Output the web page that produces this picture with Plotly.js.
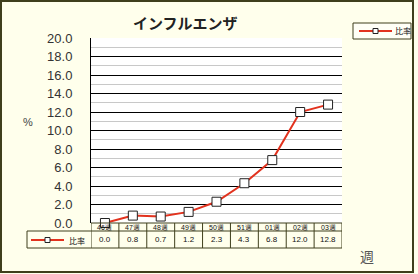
<!DOCTYPE html>
<html><head><meta charset="utf-8">
<script src="https://cdn.plot.ly/plotly-3.0.1.min.js"></script>
<style>html,body{margin:0;padding:0;background:#FFFFEC;}#c{width:418px;height:274px;}</style>
</head><body><div id="c"></div>
<script>
const weeks = ["46週","47週","48週","49週","50週","51週","01週","02週","03週"];
const ratio = [0.0, 0.8, 0.7, 1.2, 2.3, 4.3, 6.8, 12.0, 12.8];
const seriesName = "比率";
const yTicks = [0,2,4,6,8,10,12,14,16,18,20];

const L=91,R=342,T=38,B=223,W=418,H=274;
const PW=R-L, PH=B-T;
const px = x => (x-L)/PW;
const py = y => (B-y)/PH;
const olive = '#3f3f1c';
const red = '#E2321E';

const shapes = [];
const ann = [];
// outer frame
shapes.push({type:'rect',xref:'paper',yref:'paper',x0:px(1),x1:px(413),y0:py(1),y1:py(272),line:{color:olive,width:2},layer:'below'});
// table
const rowTop=py(223), rowMid=py(231), rowBot=py(248);
shapes.push({type:'line',xref:'paper',yref:'paper',x0:0,x1:1,y0:rowTop,y1:rowTop,line:{color:olive,width:1}});
shapes.push({type:'line',xref:'paper',yref:'paper',x0:px(27),x1:1,y0:rowMid,y1:rowMid,line:{color:olive,width:1}});
shapes.push({type:'line',xref:'paper',yref:'paper',x0:px(27),x1:1,y0:rowBot,y1:rowBot,line:{color:olive,width:1}});
shapes.push({type:'line',xref:'paper',yref:'paper',x0:px(27),x1:px(27),y0:rowMid,y1:rowBot,line:{color:olive,width:1}});
for(let i=0;i<=weeks.length;i++){
  shapes.push({type:'line',xref:'x',yref:'paper',x0:i-0.5,x1:i-0.5,y0:rowTop,y1:rowBot,line:{color:olive,width:1}});
}
weeks.forEach((w,i)=>{
  ann.push({x:w,xref:'x',yref:'paper',y:(rowTop+rowMid)/2,text:w,showarrow:false,font:{size:7,color:'#111',family:'Liberation Sans'},yanchor:'middle'});
  ann.push({x:w,xref:'x',yref:'paper',y:(rowMid+rowBot)/2,text:ratio[i].toFixed(1),showarrow:false,font:{size:8,color:'#111',family:'Liberation Sans'},yanchor:'middle'});
});
// legend key helper
function key(x0,x1,y,mx,tx){
  shapes.push({type:'line',xref:'paper',yref:'paper',x0:px(x0),x1:px(x1),y0:py(y),y1:py(y),line:{color:red,width:2}});
  shapes.push({type:'rect',xref:'paper',yref:'paper',x0:px(mx-2.5),x1:px(mx+2.5),y0:py(y+2.5),y1:py(y-2.5),line:{color:'#222',width:1},fillcolor:'#fff'});
  ann.push({xref:'paper',yref:'paper',x:px(tx),y:py(y),text:seriesName,showarrow:false,xanchor:'left',yanchor:'middle',font:{size:8,color:'#111',family:'Noto Sans CJK JP'}});
}
key(31,64,240,47.5,67);
// top-right legend box
shapes.push({type:'rect',xref:'paper',yref:'paper',x0:px(353),x1:px(411),y0:py(39),y1:py(23),line:{color:olive,width:1},fillcolor:'#FFFFF6'});
key(359,392,31,375.5,393);
// title & axis labels
ann.push({xref:'paper',yref:'paper',x:px(185),y:py(22),text:'<b>インフルエンザ</b>',showarrow:false,xanchor:'center',yanchor:'middle',font:{size:15,color:'#222',family:'Noto Sans CJK JP'}});
ann.push({xref:'paper',yref:'paper',x:px(28),y:py(122),text:'%',showarrow:false,xanchor:'center',yanchor:'middle',font:{size:11,color:'#444',family:'Liberation Sans'}});
ann.push({xref:'paper',yref:'paper',x:px(367),y:py(256),text:'週',showarrow:false,xanchor:'center',yanchor:'middle',font:{size:14,color:'#555',family:'Noto Sans CJK JP'}});

const trace = {x:weeks,y:ratio,type:'scatter',mode:'lines+markers',name:seriesName,showlegend:false,
  line:{color:red,width:2},marker:{symbol:'square',size:9,color:'#fff',line:{color:'#222',width:1}},cliponaxis:false};

const layout = {
  width:W,height:H,margin:{l:L,r:W-R,t:T,b:H-B,pad:0},
  paper_bgcolor:'#FFFFEC',plot_bgcolor:'#FFFFFF',
  showlegend:false,
  xaxis:{type:'category',range:[-0.5,weeks.length-0.5],showticklabels:false,showgrid:false,zeroline:false,showline:false,ticks:'',fixedrange:true},
  yaxis:{range:[0,20],tickvals:yTicks,ticktext:yTicks.map(v=>v.toFixed(1)),showline:true,linecolor:'#000',linewidth:1,
    gridcolor:'#000',gridwidth:1,zeroline:false,ticks:'',ticklabelstandoff:15,
    tickfont:{size:13,color:'#333',family:'Liberation Sans'},
    minor:{dtick:1,tick0:0,showgrid:true,gridcolor:'#c8c8c8',gridwidth:1}},
  shapes:shapes,annotations:ann
};
Plotly.newPlot('c',[trace],layout,{displayModeBar:false,staticPlot:true});
</script></body></html>
